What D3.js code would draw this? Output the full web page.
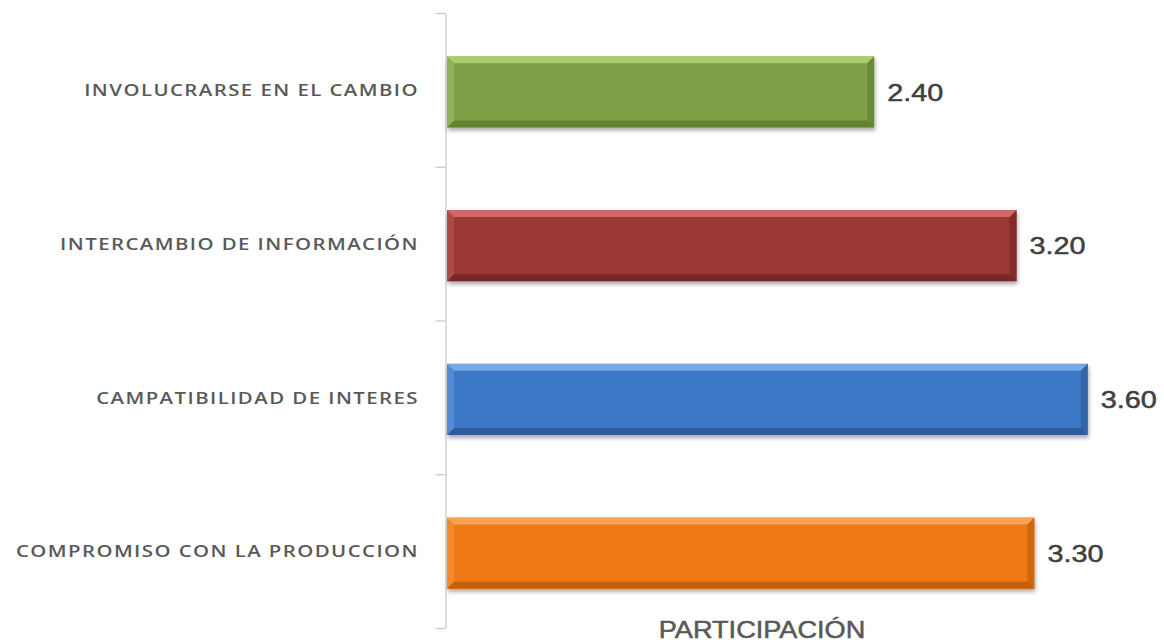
<!DOCTYPE html>
<html>
<head>
<meta charset="utf-8">
<script src="https://cdn.jsdelivr.net/npm/d3@7"></script>
<style>
  body { margin: 0; background: #fff; }
  svg { display: block; }
</style>
</head>
<body>
<svg id="chart"></svg>
<script>
// Chart data (top to bottom)
const categories = [
  'INVOLUCRARSE EN EL CAMBIO',
  'INTERCAMBIO DE INFORMACIÓN',
  'CAMPATIBILIDAD DE INTERES',
  'COMPROMISO CON LA PRODUCCION'
];
const values = [2.40, 3.20, 3.60, 3.30];
const barColors = ['#7f9e44', '#993836', '#3d78c6', '#ee7914'];
const lightColors = ['#b4d47a', '#d8706c', '#7cb0ef', '#f8aa62'];
const darkColors = ['#5c7a28', '#6e2322', '#2a5590', '#b95a08'];
const axisTitle = 'PARTICIPACIÓN';

const W = 1164, H = 643;
const svg = d3.select('#chart').attr('width', W).attr('height', H);

const defs = svg.append('defs');
const shadow = defs.append('filter').attr('id', 'shadow')
  .attr('x', '-5%').attr('y', '-20%').attr('width', '110%').attr('height', '150%');
shadow.append('feDropShadow')
  .attr('dx', 1).attr('dy', 3).attr('stdDeviation', 2)
  .attr('flood-color', '#000').attr('flood-opacity', 0.35);

// Scales
const x0 = 447;
const xScale = d3.scaleLinear().domain([0, 4]).range([x0, x0 + 4 * 178]);
const yScale = d3.scaleBand()
  .domain(categories)
  .range([13, 628])
  .paddingInner(0.538)
  .paddingOuter(0.269);
const yEdges = d3.scaleLinear().domain([0, categories.length]).range([13, 628]);

// Axis with ticks between categories
svg.append('g')
  .attr('transform', 'translate(445.5,0)')
  .call(d3.axisLeft(yEdges).tickValues(d3.range(categories.length + 1))
    .tickFormat('').tickSizeInner(10).tickSizeOuter(0))
  .call(g => g.selectAll('line, path').attr('stroke', '#c6c6c6').attr('stroke-width', 1.2));

// Bars with bevel
const bh = yScale.bandwidth();
const bev = 7;
const bars = svg.selectAll('.bar')
  .data(categories)
  .enter()
  .append('g')
  .attr('class', 'bar')
  .attr('transform', d => `translate(0,${yScale(d) + 2})`);

bars.each(function(d, i) {
  const g = d3.select(this);
  const x1 = xScale(0), x2 = xScale(values[i]);
  g.append('rect')
    .attr('x', x1).attr('y', 0)
    .attr('width', x2 - x1).attr('height', bh)
    .attr('fill', barColors[i])
    .attr('filter', 'url(#shadow)');
  // top bevel
  g.append('path')
    .attr('d', `M${x1},0 L${x2},0 L${x2 - bev},${bev} L${x1 + bev},${bev} Z`)
    .attr('fill', lightColors[i]).attr('opacity', 0.85);
  // bottom bevel
  g.append('path')
    .attr('d', `M${x1},${bh} L${x2},${bh} L${x2 - bev},${bh - bev} L${x1 + bev},${bh - bev} Z`)
    .attr('fill', darkColors[i]).attr('opacity', 0.8);
  // right bevel
  g.append('path')
    .attr('d', `M${x2},0 L${x2},${bh} L${x2 - bev},${bh - bev} L${x2 - bev},${bev} Z`)
    .attr('fill', darkColors[i]).attr('opacity', 0.55);
  // left bevel
  g.append('path')
    .attr('d', `M${x1},0 L${x1},${bh} L${x1 + bev},${bh - bev} L${x1 + bev},${bev} Z`)
    .attr('fill', lightColors[i]).attr('opacity', 0.35);
});

// Value labels
svg.selectAll('.value')
  .data(categories)
  .enter()
  .append('text')
  .attr('class', 'value')
  .attr('transform', (d, i) => `translate(${xScale(values[i]) + 13},${yScale(d) + bh / 2 + 2}) scale(1.2,1)`)
  .attr('dy', '0.36em')
  .attr('font-family', 'Liberation Sans, Arial, sans-serif')
  .attr('font-size', 24)
  .attr('fill', '#404040')
  .attr('stroke', '#404040')
  .attr('stroke-width', 0.5)
  .text((d, i) => values[i].toFixed(2));

// Category labels
svg.selectAll('.cat')
  .data(categories)
  .enter()
  .append('text')
  .attr('class', 'cat')
  .attr('transform', d => `translate(419,${yScale(d) + bh / 2}) scale(1.2,1)`)
  .attr('dy', '0.36em')
  .attr('text-anchor', 'end')
  .attr('font-family', 'Open Sans, sans-serif')
  .attr('font-size', 17)
  .attr('font-weight', 600)
  .attr('letter-spacing', 1.2)
  .attr('fill', '#595959')
  .text(d => d);

// Axis title
svg.append('text')
  .attr('transform', 'translate(762,638) scale(1.18,1)')
  .attr('text-anchor', 'middle')
  .attr('font-family', 'Liberation Sans, Arial, sans-serif')
  .attr('font-size', 23)
  .attr('fill', '#595959')
  .attr('stroke', '#595959')
  .attr('stroke-width', 0.5)
  .text(axisTitle);
</script>
</body>
</html>
